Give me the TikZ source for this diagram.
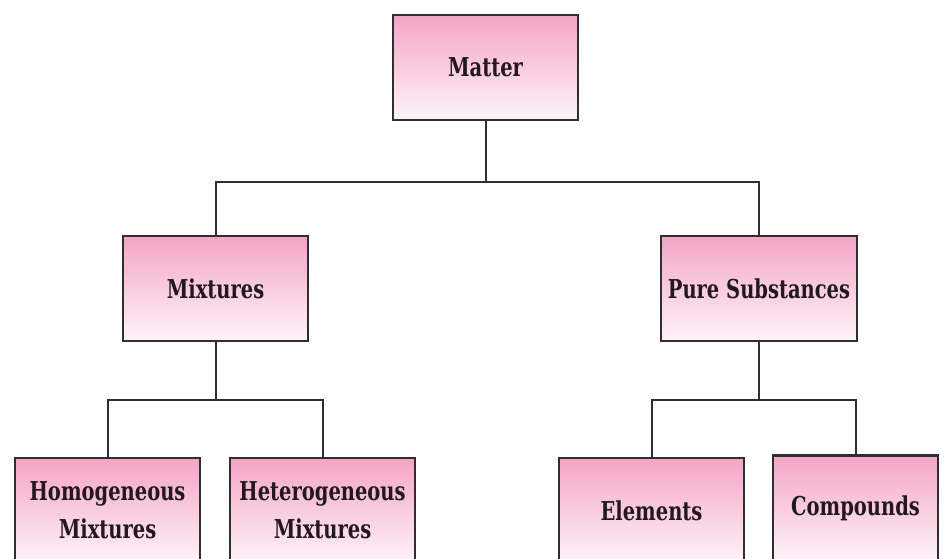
\documentclass[tikz,border=0pt]{standalone}
\usepackage{fontspec}
\setmainfont{DejaVu Serif}[FakeStretch=0.75]
\definecolor{boxtop}{RGB}{244,164,197}
\definecolor{boxbot}{RGB}{254,244,249}
\definecolor{edge}{RGB}{50,45,50}
\definecolor{ink}{RGB}{36,24,32}
\tikzset{
  box/.style={draw=edge, line width=2.6pt, top color=boxtop, bottom color=boxbot,
    minimum height=105pt, inner sep=0pt, align=center, text=ink,
    font=\fontsize{26}{38}\selectfont\bfseries},
  link/.style={draw=edge, line width=2pt}
}
\begin{document}
\begin{tikzpicture}[x=1pt,y=-1pt]
\useasboundingbox (0,0) rectangle (948,558);
\clip (0,0) rectangle (948,558);
\fill[white] (0,0) rectangle (948,558);
\node[box, minimum width=185pt] (matter) at (485.5,67.5) {Matter};
\node[box, minimum width=185pt] (mix) at (215.5,288.5) {Mixtures};
\node[box, minimum width=196pt] (pure) at (759,288.5) {Pure Substances};
\node[box, minimum width=185pt] (homo) at (107.5,510.5) {Homogeneous\\Mixtures};
\node[box, minimum width=185pt] (hetero) at (322.5,510.5) {Heterogeneous\\Mixtures};
\node[box, minimum width=185pt] (elem) at (651.5,510.5) {Elements};
\node[box, minimum width=165pt] (comp) at (855.5,508) {Compounds};
\coordinate (j1) at (485.5,182);
\coordinate (j2) at (215.5,400);
\coordinate (j3) at (759,400);
\draw[link] (matter.south) -- (j1);
\draw[link] (mix.north) |- (j1) -| (pure.north);
\draw[link] (mix.south) -- (j2);
\draw[link] (homo.north) |- (j2) -| (hetero.north);
\draw[link] (pure.south) -- (j3);
\draw[link] (elem.north) |- (j3) -| (comp.north);
\end{tikzpicture}
\end{document}
